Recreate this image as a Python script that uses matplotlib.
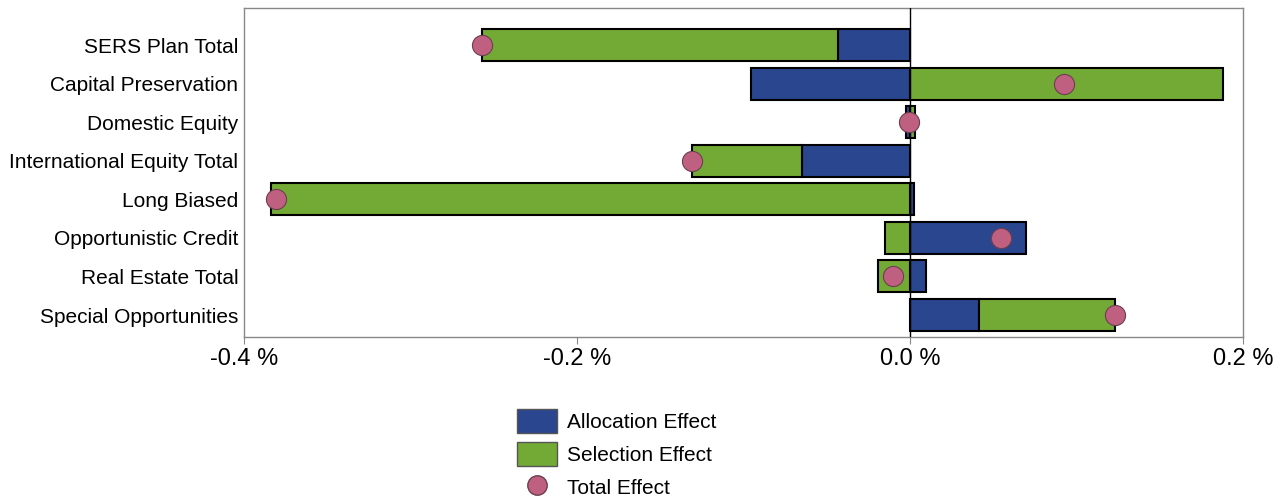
import matplotlib.pyplot as plt
import numpy as np
from matplotlib.patches import Patch
from matplotlib.lines import Line2D

plt.rcParams["font.family"] = ["Liberation Sans", "DejaVu Sans"]

categories = [
    "SERS Plan Total",
    "Capital Preservation",
    "Domestic Equity",
    "International Equity Total",
    "Long Biased",
    "Opportunistic Credit",
    "Real Estate Total",
    "Special Opportunities",
]
allocation = [-0.043, -0.0955, -0.0026, -0.065, 0.0025, 0.0697, 0.0096, 0.0412]
selection = [-0.214, 0.188, 0.0032, -0.066, -0.3835, -0.0152, -0.0195, 0.0822]
total = [-0.257, 0.0925, -0.0006, -0.131, -0.381, 0.0545, -0.0105, 0.1234]
xticks = [-0.4, -0.2, 0.0, 0.2]

blue = "#2a468e"
green = "#72aa35"
pink = "#c06080"

alloc = np.array(allocation)
sel = np.array(selection)
# selection stacks onto allocation only when both go the same way
sel_left = np.where(np.sign(alloc) == np.sign(sel), alloc, 0.0)
y = np.arange(len(categories))

fig = plt.figure(figsize=(12.8, 5.01), dpi=100)
ax = fig.add_axes([244 / 1280, 1 - 337 / 501, 999 / 1280, 329 / 501])

ax.barh(y, alloc, height=0.83, color=blue, edgecolor="black", linewidth=1.5, zorder=2)
ax.barh(y, sel, left=sel_left, height=0.83, color=green, edgecolor="black",
        linewidth=1.5, zorder=2)
ax.scatter(total, y, s=210, color=pink, edgecolor="#6a4050", linewidth=0.8, zorder=4)
ax.axvline(0, color="black", linewidth=1, zorder=3)

ax.set_xlim(-0.4, 0.2)
ax.set_ylim(len(categories) - 1 + 0.57, -0.96)
ax.set_xticks(xticks)
ax.set_xticklabels([f"{v:.1f} %" for v in xticks], fontsize=17)
ax.set_yticks(y)
ax.set_yticklabels(categories, fontsize=15)
ax.tick_params(axis="y", length=0, pad=4)
ax.tick_params(axis="x", length=5, color="#888888", pad=3)
for s in ax.spines.values():
    s.set_color("#888888")
    s.set_linewidth(1)

handles = [
    Patch(facecolor=blue, edgecolor="#555555", label="Allocation Effect"),
    Patch(facecolor=green, edgecolor="#555555", label="Selection Effect"),
    Line2D([], [], marker="o", linestyle="none", markersize=14, markerfacecolor=pink,
           markeredgecolor="#6a4050", label="Total Effect"),
]
fig.legend(handles=handles, loc="upper left", bbox_to_anchor=(517 / 1280, 1 - 409 / 501),
           frameon=False, fontsize=15, handlelength=1.92, handleheight=1.36,
           handletextpad=0.5, labelspacing=0.46, borderpad=0, borderaxespad=0)

fig.savefig("out.png", dpi=100)
